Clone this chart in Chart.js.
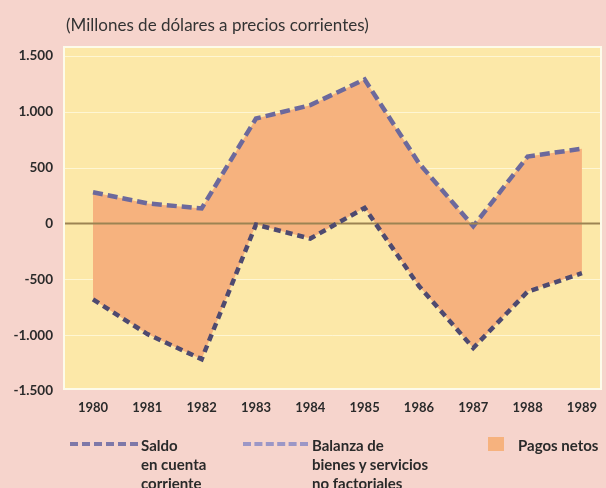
<!DOCTYPE html>
<html>
<head>
<meta charset="utf-8">
<script src="https://cdn.jsdelivr.net/npm/chart.js@4"></script>
<style>
  html, body { margin:0; padding:0; background:#f6d4cc; }
  #wrap { position:relative; width:606px; height:488px; overflow:hidden; font-family: Lato, "Open Sans", sans-serif; color:#2a2a2a; }
  canvas { position:absolute; left:0; top:0; }
  .title { position:absolute; left:66px; top:14px; font-size:17px; color:#333; white-space:nowrap; }
  .leg { position:absolute; font-size:15px; font-weight:bold; line-height:19px; color:#2a2a2a; white-space:nowrap; }
  .dash { position:absolute; height:0; }
</style>
</head>
<body>
<div id="wrap">
  <canvas id="c" width="606" height="488"></canvas>
  <div class="title">(Millones de dólares a precios corrientes)</div>
  <div class="dash" style="left:70px; top:442px; width:68px; border-top:4px dashed #7e78a8;"></div>
  <div class="leg" style="left:141px; top:436px;">Saldo<br>en cuenta<br>corriente</div>
  <div class="dash" style="left:243px; top:442px; width:65px; border-top:4px dashed #9c97c6;"></div>
  <div class="leg" style="left:312px; top:436px;">Balanza de<br>bienes y servicios<br>no factoriales</div>
  <div style="position:absolute; left:488px; top:437px; width:16px; height:14px; background:#f6b27e;"></div>
  <div class="leg" style="left:518px; top:436px;">Pagos netos</div>
</div>
<script>
const years = ['1980','1981','1982','1983','1984','1985','1986','1987','1988','1989'];
const saldoCuentaCorriente = [-680, -990, -1215, -10, -135, 140, -560, -1115, -610, -445];
const balanzaBienesServicios = [280, 180, 135, 940, 1060, 1290, 540, -25, 600, 670];
const yTickValues = [-1500, -1000, -500, 0, 500, 1000, 1500];
const yTickLabels = ['-1.500', '-1.000', '-500', '0', '500', '1.000', '1.500'];

const bgPlugin = {
  id: 'bg',
  beforeDraw(chart) {
    const {ctx, chartArea: a, scales} = chart;
    ctx.save();
    const left = 65, right = 600, top = a.top - 8, bottom = a.bottom - 3;
    ctx.fillStyle = '#fdfbea';
    ctx.fillRect(left - 2, top - 2, right - left + 4, bottom - top + 4);
    ctx.fillStyle = '#fce8a8';
    ctx.fillRect(left, top, right - left, bottom - top);
    ctx.strokeStyle = 'rgba(255,255,240,0.6)';
    ctx.lineWidth = 1;
    for (const v of yTickValues) {
      if (v === 0) continue;
      const y = Math.round(scales.y.getPixelForValue(v)) + 0.5;
      if (y <= top || y >= bottom) continue;
      ctx.beginPath(); ctx.moveTo(left, y); ctx.lineTo(right, y); ctx.stroke();
    }
    ctx.restore();
  },
  afterDatasetDraw(chart, args) {
    if (args.index !== 1) return;
    const {ctx, scales} = chart;
    const y = scales.y.getPixelForValue(0);
    ctx.save();
    ctx.strokeStyle = '#9c8352';
    ctx.lineWidth = 2;
    ctx.beginPath(); ctx.moveTo(65, y); ctx.lineTo(600, y); ctx.stroke();
    ctx.restore();
  }
};

new Chart(document.getElementById('c'), {
  type: 'line',
  data: {
    labels: years,
    datasets: [
      {
        label: 'Saldo en cuenta corriente',
        data: saldoCuentaCorriente,
        borderColor: '#4e4a70',
        borderWidth: 4.5,
        borderDash: [7, 5],
        pointRadius: 0,
        tension: 0,
        fill: false
      },
      {
        label: 'Balanza de bienes y servicios no factoriales',
        data: balanzaBienesServicios,
        borderColor: '#6c699c',
        borderWidth: 4.5,
        borderDash: [10, 5],
        pointRadius: 0,
        tension: 0,
        fill: '-1',
        backgroundColor: '#f6b27e'
      }
    ]
  },
  options: {
    responsive: false,
    animation: false,
    devicePixelRatio: 1,
    layout: { padding: { top: 56, right: 23, left: 0, bottom: 0 } },
    plugins: { legend: { display: false }, tooltip: { enabled: false } },
    scales: {
      x: {
        offset: false,
        grid: { display: false, drawTicks: false },
        border: { display: false },
        ticks: { padding: 9, maxRotation: 0, autoSkip: false, color: '#2a2a2a',
                 font: { family: 'Lato, "Open Sans", sans-serif', size: 13, weight: 'bold' } },
        afterFit(s) { s.height = 97; }
      },
      y: {
        min: -1500, max: 1500,
        afterBuildTicks(s) { s.ticks = yTickValues.map(v => ({ value: v })); },
        grid: { display: false, drawTicks: false },
        border: { display: false },
        ticks: {
          padding: 40,
          color: '#2a2a2a',
          font: { family: 'Lato, "Open Sans", sans-serif', size: 13.5, weight: 'bold' },
          callback(v) { const i = yTickValues.indexOf(v); return i >= 0 ? yTickLabels[i] : ''; }
        },
        afterFit(s) { s.width = 93; }
      }
    }
  },
  plugins: [bgPlugin]
});
</script>
</body>
</html>
